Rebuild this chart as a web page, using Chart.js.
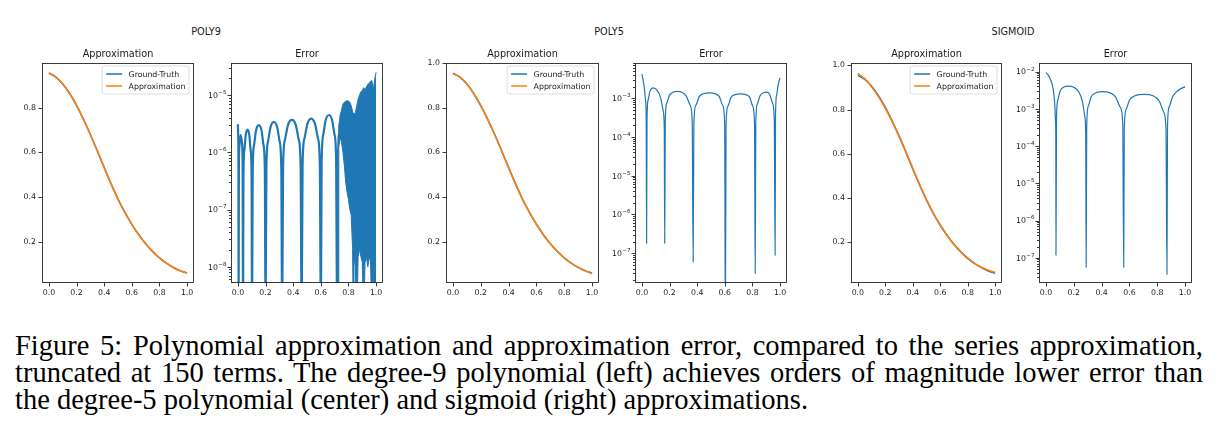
<!DOCTYPE html>
<html><head><meta charset="utf-8">
<script src="https://cdn.jsdelivr.net/npm/chart.js@4.4.1/dist/chart.umd.min.js"></script>
<style>
html,body{margin:0;padding:0;background:#fff;}
body{width:1222px;height:448px;position:relative;overflow:hidden;font-family:"DejaVu Sans",sans-serif;}
canvas{position:absolute;}
.sup{position:absolute;font-size:9.7px;color:#1a1a1a;transform:translate(-50%,-50%);white-space:nowrap;line-height:12px;}
#cap{position:absolute;left:15px;top:332px;width:1188px;font-family:"Liberation Serif","Times New Roman",serif;font-size:28.5px;line-height:27px;color:#000;}
#cap .j{text-align:justify;text-align-last:justify;}
#cap .l{text-align:left;white-space:nowrap;}
</style></head>
<body>
<div class="sup" style="left:206px;top:32px">POLY9</div>
<div class="sup" style="left:609px;top:32px">POLY5</div>
<div class="sup" style="left:1013px;top:32px">SIGMOID</div>
<div id="cap">
<div class="j">Figure 5: Polynomial approximation and approximation error, compared to the series approximation,</div>
<div class="j">truncated at 150 terms. The degree-9 polynomial (left) achieves orders of magnitude lower error than</div>
<div class="l">the degree-5 polynomial (center) and sigmoid (right) approximations.</div>
</div>
<script>
// ---------------- DATA ----------------
const approxX = [0,0.05,0.1,0.15,0.2,0.25,0.3,0.35,0.4,0.45,0.5,0.55,0.6,0.65,0.7,0.75,0.8,0.85,0.9,0.95,1.0];
const groundTruth  = [0.955,0.937,0.906,0.863,0.810,0.748,0.680,0.607,0.532,0.459,0.391,0.331,0.278,0.231,0.191,0.157,0.128,0.104,0.085,0.070,0.060];
const poly9Approx  = [0.955,0.937,0.906,0.863,0.810,0.748,0.680,0.607,0.532,0.459,0.391,0.331,0.278,0.231,0.191,0.157,0.128,0.104,0.085,0.070,0.060];
const poly5Approx  = [0.952,0.937,0.906,0.863,0.810,0.748,0.680,0.607,0.532,0.459,0.391,0.331,0.278,0.231,0.191,0.157,0.128,0.104,0.085,0.070,0.057];
const sigmoidApprox= [0.964,0.940,0.903,0.859,0.806,0.746,0.681,0.610,0.535,0.462,0.393,0.331,0.276,0.229,0.189,0.155,0.126,0.103,0.087,0.073,0.064];

const poly9ErrX = [0,0.002,0.004,0.005, 0.007,0.011,0.02,0.029,0.034,0.037, 0.04,0.047,0.0565,0.0695,0.0825,0.092,0.099,0.102, 0.107,0.117,0.131,0.151,0.171,0.185,0.195,0.2, 0.206,0.218,0.236,0.26,0.284,0.302,0.314,0.32, 0.327,0.341,0.362,0.3905,0.419,0.44,0.454,0.461, 0.468,0.482,0.503,0.5305,0.558,0.579,0.593,0.6, 0.606,0.618,0.635,0.6585,0.682,0.699,0.711,0.717];
const poly9ErrY = [3.1e-6,2.0e-6,6e-7,1e-9, 5e-7,1.3e-6,2.0e-6,1.5e-6,7e-7,1e-9, 4e-7,1.1e-6,2.0e-6,2.5e-6,2.0e-6,1.1e-6,4e-7,1e-9, 4.8e-7,1.35e-6,2.4e-6,3.0e-6,2.4e-6,1.35e-6,4.8e-7,1e-9, 5.3e-7,1.55e-6,2.75e-6,3.4e-6,2.75e-6,1.55e-6,5.3e-7,1e-9, 5.8e-7,1.68e-6,3.0e-6,3.7e-6,3.0e-6,1.68e-6,5.8e-7,1e-9, 6.1e-7,1.77e-6,3.15e-6,3.9e-6,3.15e-6,1.77e-6,6.1e-7,1e-9, 7e-7,2.05e-6,3.65e-6,4.5e-6,3.65e-6,2.05e-6,7e-7,1e-9];
const poly9NoiseX     = [0.717,0.72,0.725,0.73,0.735,0.74,0.75,0.76,0.77,0.78,0.79,0.80,0.81,0.82,0.83,0.835,0.84,0.85,0.86,0.87,0.88,0.89,0.90,0.91,0.92,0.93,0.94,0.95,0.96,0.97,0.975,0.98,0.99,0.995,1.0];
const poly9NoiseUpper = [1e-9,8e-7,2e-6,3e-6,3.5e-6,4.5e-6,5.5e-6,7e-6,7.5e-6,7.8e-6,8e-6,7.9e-6,7.5e-6,6.5e-6,5.2e-6,4.8e-6,4.5e-6,5.0e-6,6.5e-6,8.5e-6,1.0e-5,1.15e-5,1.2e-5,1.35e-5,1.25e-5,1.4e-5,1.55e-5,1.6e-5,1.75e-5,1.8e-5,1.4e-5,1.3e-5,1.9e-5,2.2e-5,2.5e-5];
const poly9NoiseLower = [1e-9,1e-9,1e-9,1.2e-6,1.6e-6,1.8e-6,1.5e-6,1.0e-6,6e-7,3e-7,2e-7,1.5e-7,1e-7,8e-8,2e-8,1e-9,1.5e-8,1e-8,1e-9,1.5e-8,2e-8,1.5e-8,1.2e-8,1e-9,1.2e-8,1.5e-8,1e-8,1.5e-8,1.2e-8,1e-9,1e-9,1.2e-8,1e-9,1e-9,1e-9];

const poly5ErrX = [0,0.008,0.017,0.026,0.031,0.034, 0.037,0.045,0.058,0.083,0.11,0.135,0.155,0.162,0.165, 0.169,0.18,0.2,0.225,0.258,0.29,0.32,0.35,0.364,0.371, 0.376,0.39,0.415,0.445,0.487,0.53,0.56,0.585,0.599,0.604, 0.609,0.622,0.645,0.675,0.714,0.75,0.78,0.802,0.815,0.82, 0.824,0.835,0.855,0.88,0.905,0.925,0.945,0.958,0.964, 0.967,0.975,0.985,0.993,1.0];
const poly5ErrY = [4.2e-3,3.0e-3,1.9e-3,9e-4,3.5e-4,1.8e-7, 3e-4,9e-4,1.5e-3,1.85e-3,1.6e-3,1.05e-3,4.5e-4,1.5e-4,1.8e-7, 2.5e-4,7.5e-4,1.2e-3,1.42e-3,1.5e-3,1.42e-3,1.15e-3,6.5e-4,2.5e-4,5.9e-8, 2.3e-4,6.5e-4,1.1e-3,1.3e-3,1.37e-3,1.3e-3,1.1e-3,6.5e-4,2.3e-4,1e-9, 2.2e-4,6.2e-4,1.05e-3,1.24e-3,1.3e-3,1.24e-3,1.05e-3,6.2e-4,2.2e-4,3.0e-8, 2.4e-4,7e-4,1.15e-3,1.38e-3,1.43e-3,1.25e-3,7.5e-4,2.8e-4,8.9e-8, 4e-4,1.2e-3,2.1e-3,2.8e-3,3.3e-3];

const sigErrX = [0,0.015,0.03,0.045,0.055,0.063,0.068,0.071,0.072, 0.076,0.085,0.1,0.125,0.164,0.2,0.235,0.262,0.28,0.286,0.289, 0.293,0.305,0.325,0.36,0.41,0.46,0.5,0.535,0.552,0.559, 0.563,0.578,0.6,0.64,0.706,0.77,0.815,0.848,0.863,0.87, 0.874,0.885,0.91,0.94,0.97,1.0];
const sigErrY = [9.4e-3,8.2e-3,6.5e-3,4.5e-3,2.8e-3,1.4e-3,5.5e-4,1.5e-4,1.17e-7, 6e-4,1.7e-3,2.9e-3,3.8e-3,4.1e-3,3.8e-3,2.9e-3,1.6e-3,6e-4,2e-4,5.6e-8, 3.5e-4,1.2e-3,2.1e-3,2.7e-3,2.9e-3,2.7e-3,2.1e-3,1.1e-3,4e-4,5.6e-8, 3e-4,1.0e-3,1.7e-3,2.25e-3,2.45e-3,2.25e-3,1.6e-3,8e-4,2.8e-4,3.6e-8, 3.5e-4,1.1e-3,2.1e-3,2.9e-3,3.5e-3,3.9e-3];

// tick values / labels
const xTicks = [0,0.2,0.4,0.6,0.8,1.0];
const xTickLabels = ['0.0','0.2','0.4','0.6','0.8','1.0'];
const yTicks4 = [0.2,0.4,0.6,0.8];
const yTickLabels4 = ['0.2','0.4','0.6','0.8'];
const yTicks5 = [0.2,0.4,0.6,0.8,1.0];
const yTickLabels5 = ['0.2','0.4','0.6','0.8','1.0'];
const poly9Decades = [1e-9,1e-8,1e-7,1e-6,1e-5];
const poly9DecadeLabels = ['10^−9','10^−8','10^−7','10^−6','10^−5'];
const poly5Decades = [1e-8,1e-7,1e-6,1e-5,1e-4,1e-3];
const poly5DecadeLabels = ['10^−8','10^−7','10^−6','10^−5','10^−4','10^−3'];
const sigDecades = [1e-8,1e-7,1e-6,1e-5,1e-4,1e-3,1e-2];
const sigDecadeLabels = ['10^−8','10^−7','10^−6','10^−5','10^−4','10^−3','10^−2'];
const minorMultipliers = [2,3,4,5,6,7,8,9];

// ---------------- LAYOUT / STYLE ----------------
const PADL = 40, PADT = 22, PADR = 10, PADB = 20;
const TXT = '#1a1a1a', BLUE = '#1f77b4', ORANGE = '#ff7f0e';
const FONT = {family: '"DejaVu Sans"', size: 7.8};
Chart.defaults.font.family = '"DejaVu Sans"';

const pts = (xs, ys) => xs.map((x, i) => ({x: x, y: ys[i]}));

const axisPlugin = {
  id: 'axisPlugin',
  afterDraw(chart) {
    const {ctx, chartArea: a, scales} = chart;
    ctx.save();
    ctx.strokeStyle = '#262626';
    ctx.lineWidth = 0.9;
    ctx.beginPath();
    scales.x.ticks.forEach(t => {
      const p = Math.round(scales.x.getPixelForValue(t.value)) + 0.5;
      ctx.moveTo(p, a.bottom); ctx.lineTo(p, a.bottom + 3.5);
    });
    scales.y.ticks.forEach(t => {
      const p = scales.y.getPixelForValue(t.value);
      if (p < a.top - 0.5 || p > a.bottom + 0.5) return;
      const q = Math.round(p) + 0.5;
      const len = t.minor ? 2 : 3.5;
      ctx.moveTo(a.left - len, q); ctx.lineTo(a.left, q);
    });
    ctx.stroke();
    ctx.strokeRect(a.left + 0.5, a.top + 0.5, a.right - a.left - 1, a.bottom - a.top - 1);
    // log-axis labels with raised exponent (mathtext style)
    const ys = scales.y;
    if (ys.options.decadeLabels) {
      ctx.fillStyle = TXT; ctx.textAlign = 'right'; ctx.textBaseline = 'middle';
      ys.ticks.forEach(t => {
        if (t.minor) return;
        const p = ys.getPixelForValue(t.value);
        if (p < a.top - 0.5 || p > a.bottom + 0.5) return;
        const lab = ys.options.decadeLabels[ys.options.decades.indexOf(t.value)];
        const parts = lab.split('^');
        const xe = a.left - 4.5;
        ctx.font = '5.6px "DejaVu Sans"';
        const ew = ctx.measureText(parts[1]).width;
        ctx.fillText(parts[1], xe, p - 2.6);
        ctx.font = '7.8px "DejaVu Sans"';
        ctx.fillText(parts[0], xe - ew - 0.3, p + 0.8);
      });
    }
    ctx.restore();
  }
};

const innerLegend = {
  id: 'innerLegend',
  afterDraw(chart, args, opts) {
    if (!opts || !opts.show) return;
    const {ctx, chartArea: a} = chart;
    const items = chart.data.datasets.filter(d => d.label);
    ctx.save();
    ctx.font = '7.8px "DejaVu Sans"';
    const tw = Math.max(...items.map(d => ctx.measureText(d.label).width));
    const w = 4 + 16 + 6.5 + tw + 3.5, h = 16 + (items.length - 1) * 12;
    const x = a.right - 5 - w, y = a.top + 3, r = 2;
    ctx.beginPath();
    ctx.moveTo(x + r, y); ctx.lineTo(x + w - r, y); ctx.arcTo(x + w, y, x + w, y + r, r);
    ctx.lineTo(x + w, y + h - r); ctx.arcTo(x + w, y + h, x + w - r, y + h, r);
    ctx.lineTo(x + r, y + h); ctx.arcTo(x, y + h, x, y + h - r, r);
    ctx.lineTo(x, y + r); ctx.arcTo(x, y, x + r, y, r); ctx.closePath();
    ctx.fillStyle = 'rgba(255,255,255,0.8)'; ctx.fill();
    ctx.strokeStyle = '#d6d6d6'; ctx.lineWidth = 0.8; ctx.stroke();
    items.forEach((d, i) => {
      const cy = y + 8 + i * 12;
      ctx.beginPath(); ctx.strokeStyle = d.borderColor; ctx.lineWidth = 1.5;
      ctx.moveTo(x + 4, cy); ctx.lineTo(x + 20, cy); ctx.stroke();
      ctx.fillStyle = TXT; ctx.textBaseline = 'middle'; ctx.textAlign = 'left';
      ctx.fillText(d.label, x + 26.5, cy + 0.5);
    });
    ctx.restore();
  }
};

function xScale() {
  return {
    type: 'linear', min: -0.05, max: 1.05, bounds: 'data',
    afterBuildTicks: s => { s.ticks = xTicks.map(v => ({value: v})); },
    afterFit: s => { s.height = PADB; },
    ticks: {callback: (v, i) => xTickLabels[i], font: FONT, color: TXT, padding: 5.3, autoSkip: false, maxRotation: 0},
    grid: {display: false, drawTicks: false}, border: {display: false}
  };
}
function linScale(min, max, ticks, labels) {
  return {
    type: 'linear', min: min, max: max, bounds: 'data',
    afterBuildTicks: s => { s.ticks = ticks.map(v => ({value: v})); },
    afterFit: s => { s.width = PADL; },
    ticks: {callback: (v, i) => labels[i], font: FONT, color: TXT, padding: 6, autoSkip: false},
    grid: {display: false, drawTicks: false}, border: {display: false}
  };
}
function logScale(min, max, decades, labels) {
  return {
    type: 'logarithmic', min: min, max: max, bounds: 'data',
    decades: decades, decadeLabels: labels,
    afterBuildTicks: s => {
      const t = [];
      decades.forEach(d => {
        if (d >= min && d <= max) t.push({value: d, minor: false});
        minorMultipliers.forEach(m => { const v = d * m; if (v >= min && v <= max) t.push({value: v, minor: true}); });
      });
      t.sort((p, q) => p.value - q.value);
      s.ticks = t;
    },
    afterFit: s => { s.width = PADL; },
    ticks: {callback: () => '', font: FONT, color: TXT, padding: 4.5, autoSkip: false},
    grid: {display: false, drawTicks: false}, border: {display: false}
  };
}

function makePanel(rect, title, datasets, yScale, legend) {
  const cv = document.createElement('canvas');
  const W = rect[2] - rect[0] + PADL + PADR, H = rect[3] - rect[1] + PADT + PADB;
  cv.width = W; cv.height = H;
  cv.style.left = (rect[0] - PADL) + 'px'; cv.style.top = (rect[1] - PADT) + 'px';
  cv.style.width = W + 'px'; cv.style.height = H + 'px';
  document.body.appendChild(cv);
  new Chart(cv, {
    type: 'line',
    data: {datasets: datasets},
    options: {
      responsive: false, animation: false, devicePixelRatio: 1,
      layout: {padding: {left: 0, right: PADR, top: 0, bottom: 0}},
      elements: {point: {radius: 0}},
      scales: {x: xScale(), y: yScale},
      plugins: {
        legend: {display: false}, tooltip: {enabled: false},
        title: {display: true, text: title, color: TXT, fullSize: false,
                font: {family: '"DejaVu Sans"', size: 9.7, weight: 'normal', lineHeight: 1.2},
                padding: {top: PADT - 9.7 * 1.2 - 3, bottom: 3}},
        innerLegend: {show: legend}
      }
    },
    plugins: [axisPlugin, innerLegend]
  });
}

function approxSets(approx) {
  return [
    {label: 'Ground-Truth', order: 2, data: pts(approxX, groundTruth), borderColor: BLUE, borderWidth: 1.6, cubicInterpolationMode: 'monotone', fill: false},
    {label: 'Approximation', order: 1, data: pts(approxX, approx), borderColor: ORANGE, borderWidth: 1.6, cubicInterpolationMode: 'monotone', fill: false}
  ];
}
function errSet(xs, ys, w) {
  return {data: pts(xs, ys), borderColor: BLUE, borderWidth: w, cubicInterpolationMode: 'monotone', fill: false};
}

// POLY9
makePanel([42, 63, 194, 283], 'Approximation', approxSets(poly9Approx), linScale(0.0155, 0.9997, yTicks4, yTickLabels4), true);
makePanel([231, 63, 383, 283], 'Error', [
  errSet(poly9ErrX, poly9ErrY, 2.2),
  {data: pts(poly9NoiseX, poly9NoiseUpper), borderColor: BLUE, borderWidth: 1, fill: false},
  {data: pts(poly9NoiseX, poly9NoiseLower), borderColor: BLUE, borderWidth: 1, fill: '-1', backgroundColor: BLUE}
], logScale(5.2e-9, 3.65e-5, poly9Decades, poly9DecadeLabels), false);
// POLY5
makePanel([446, 63, 599, 283], 'Approximation', approxSets(poly5Approx), linScale(0.015, 1.0005, yTicks5, yTickLabels5), true);
makePanel([635, 63, 787, 283], 'Error', [errSet(poly5ErrX, poly5ErrY, 1.2)], logScale(1.7e-8, 8.1e-3, poly5Decades, poly5DecadeLabels), false);
// SIGMOID
makePanel([851, 63, 1002, 283], 'Approximation', approxSets(sigmoidApprox), linScale(0.0156, 1.011, yTicks5, yTickLabels5), true);
makePanel([1039, 63, 1192, 283], 'Error', [errSet(sigErrX, sigErrY, 1.2)], logScale(2.1e-8, 1.71e-2, sigDecades, sigDecadeLabels), false);
</script>
</body></html>
